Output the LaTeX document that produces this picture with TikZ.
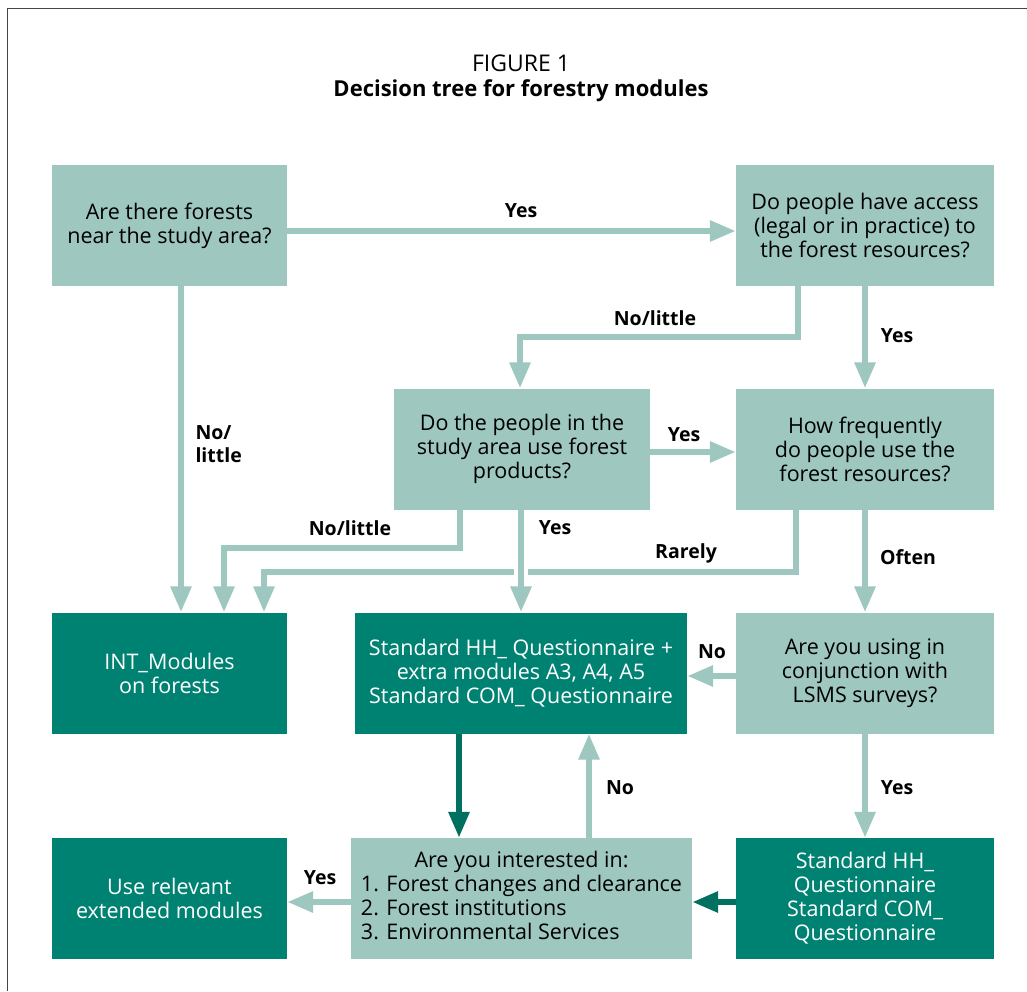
\documentclass[tikz,border=0pt]{standalone}
\usepackage{fontspec}
\setmainfont{Open Sans}
\usetikzlibrary{arrows.meta}
\definecolor{lightteal}{rgb}{0.62, 0.78, 0.75}
\definecolor{darkteal}{rgb}{0.0, 0.51, 0.45}
\definecolor{arrowteal}{rgb}{0.0, 0.44, 0.38}
\definecolor{framegray}{rgb}{0.27, 0.27, 0.27}

\begin{document}
\begin{tikzpicture}[
    x=1pt, y=-1pt,
    >={Triangle[width=20pt,length=26pt]},
    box/.style={minimum height=121pt, inner sep=0pt, align=center,
        font=\fontsize{21.5}{24}\selectfont},
    qbox/.style={box, fill=lightteal, text=black},
    abox/.style={box, fill=darkteal, text=white},
    larrow/.style={->, draw=lightteal, line width=6pt},
    darrow/.style={->, draw=arrowteal, line width=6pt},
    lbl/.style={font=\fontsize{19.5}{23}\selectfont\bfseries, align=left}]

    \useasboundingbox (0,0) rectangle (1027,991);
    \draw [framegray, line width=1.3pt] (7.5,991) -- (7.5,8.5) -- (1027,8.5);

    \node at (521,63) {\fontsize{23}{26}\selectfont FIGURE 1};
    \node at (521,91) {\fontsize{22}{26}\selectfont\bfseries Decision tree for forestry modules};

    % questions
    \node [qbox, minimum width=235pt] (forests) at (169.5,225.5) {Are there forests\\near the study area?};
    \node [qbox, minimum width=258pt] (access) at (865,225.5) {Do people have access\\(legal or in practice) to\\the forest resources?};
    \node [qbox, minimum width=256pt] (use) at (522,449) {Do the people in the\\study area use forest\\products?};
    \node [qbox, minimum width=258pt] (freq) at (865,449) {How frequently\\do people use the\\forest resources?};
    \node [qbox, minimum width=258pt] (lsms) at (865,673) {Are you using in\\conjunction with\\LSMS surveys?};
    \node [qbox, minimum width=341pt] (interest) at (521.5,898.5) {\begin{tabular}{@{}l@{}}
        \multicolumn{1}{@{}c@{}}{Are you interested in:}\\
        1. Forest changes and clearance\\
        2. Forest institutions\\
        3. Environmental Services\end{tabular}};

    % answers
    \node [abox, minimum width=235pt] (intmod) at (169.5,673) {INT\_Modules\\on forests};
    \node [abox, minimum width=332pt] (extra) at (521,673) {Standard HH\_ Questionnaire +\\extra modules A3, A4, A5\\Standard COM\_ Questionnaire};
    \node [abox, minimum width=235pt] (extended) at (169.5,898.5) {Use relevant\\extended modules};
    \node [abox, minimum width=258pt] (standard) at (865,898.5) {Standard HH\_\\Questionnaire\\Standard COM\_\\Questionnaire};

    % connectors
    \draw [larrow] ([yshift=-5.5pt]forests.east) -- ([yshift=-5.5pt]access.west);
    \draw [larrow] ([xshift=11.5pt]forests.south) -- ([xshift=11.5pt]intmod.north);
    \draw [larrow] ([xshift=-67pt]access.south) -- ++(0,51) -| ([xshift=-2pt]use.north);
    \draw [larrow] (access.south) -- (freq.north);
    \draw [larrow] ([yshift=-3pt]use.east) -- ([yshift=-3pt]freq.west);
    \draw [larrow] ([xshift=-62pt]use.south) -- ++(0,38) -| ([xshift=54.5pt]intmod.north);
    \draw [larrow] ([xshift=-69pt]freq.south) -- ++(0,62) -| ([xshift=94.5pt]intmod.north);
    \draw [white, line width=14pt] (use.south -| extra.north) -- ([yshift=30pt]extra.north);
    \draw [larrow] (use.south -| extra.north) -- (extra.north);
    \draw [larrow] (freq.south) -- (lsms.north);
    \draw [larrow] ([yshift=-3pt]lsms.west) -- ([yshift=-3pt]extra.east);
    \draw [larrow] (lsms.south) -- (standard.north);
    \draw [darrow] ([xshift=-62pt]extra.south) -- ([xshift=-62pt]extra.south |- interest.north);
    \draw [larrow] ([xshift=67.5pt]interest.north) -- ([xshift=67.5pt]interest.north |- extra.south);
    \draw [larrow] ([yshift=-3.5pt]interest.west) -- ([yshift=-3.5pt]interest.west -| extended.east);
    \draw [darrow] ([yshift=-3.5pt]standard.west) -- ([yshift=-3.5pt]standard.west -| interest.east);

    % labels
    \node [lbl] at (521,211) {Yes};
    \node [lbl, anchor=west] at (192,444) {No/\\little};
    \node [lbl] at (655,318) {No/little};
    \node [lbl] at (897,336) {Yes};
    \node [lbl] at (684,435) {Yes};
    \node [lbl] at (350,528) {No/little};
    \node [lbl] at (555,528) {Yes};
    \node [lbl] at (686,553) {Rarely};
    \node [lbl] at (908,557) {Often};
    \node [lbl] at (712,652) {No};
    \node [lbl] at (897,788) {Yes};
    \node [lbl] at (620,788) {No};
    \node [lbl] at (320,878) {Yes};

\end{tikzpicture}
\end{document}
